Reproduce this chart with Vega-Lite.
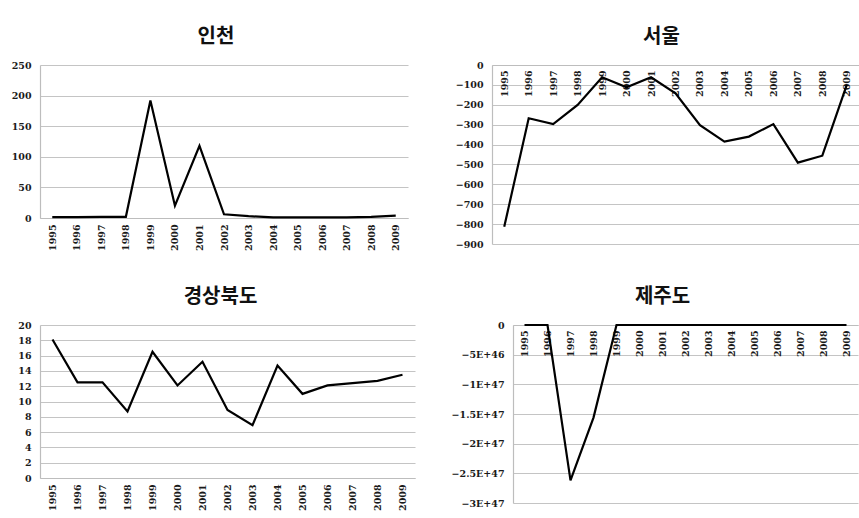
{
  "$schema": "https://vega.github.io/schema/vega-lite/v6.json",
  "autosize": {"type": "pad"},
  "padding": {"left": 11, "top": 27, "right": 0, "bottom": 0},
  "background": "white",
  "columns": 1,
  "spacing": 36,
  "config": {
    "view": {"stroke": null},
    "font": "DejaVu Serif",
    "axis": {
      "ticks": false,
      "minExtent": 0,
      "domainColor": "#bdbdbd",
      "domainWidth": 1.2,
      "gridColor": "#c4c4c4",
      "gridWidth": 1.2,
      "labelFont": "DejaVu Serif",
      "labelFontWeight": "bold",
      "labelFontSize": 9.5,
      "labelColor": "#1a1a1a",
      "title": null
    },
    "axisY": {"minExtent": 0},
    "title": {
      "font": "Noto Sans CJK KR",
      "fontSize": 20,
      "fontWeight": "bold",
      "color": "#111111",
      "anchor": "middle",
      "offset": 13
    },
    "line": {"color": "#000000", "strokeWidth": 2.2}
  },
  "data": {
    "values": [
      {"region": "인천", "year": "1995", "value": 1.5},
      {"region": "인천", "year": "1996", "value": 1.5},
      {"region": "인천", "year": "1997", "value": 2},
      {"region": "인천", "year": "1998", "value": 2},
      {"region": "인천", "year": "1999", "value": 192},
      {"region": "인천", "year": "2000", "value": 20},
      {"region": "인천", "year": "2001", "value": 118},
      {"region": "인천", "year": "2002", "value": 6},
      {"region": "인천", "year": "2003", "value": 3},
      {"region": "인천", "year": "2004", "value": 1},
      {"region": "인천", "year": "2005", "value": 1},
      {"region": "인천", "year": "2006", "value": 1},
      {"region": "인천", "year": "2007", "value": 1},
      {"region": "인천", "year": "2008", "value": 2},
      {"region": "인천", "year": "2009", "value": 4},
      {"region": "서울", "year": "1995", "value": -813},
      {"region": "서울", "year": "1996", "value": -268},
      {"region": "서울", "year": "1997", "value": -297},
      {"region": "서울", "year": "1998", "value": -201},
      {"region": "서울", "year": "1999", "value": -62},
      {"region": "서울", "year": "2000", "value": -112},
      {"region": "서울", "year": "2001", "value": -62},
      {"region": "서울", "year": "2002", "value": -142},
      {"region": "서울", "year": "2003", "value": -302},
      {"region": "서울", "year": "2004", "value": -385},
      {"region": "서울", "year": "2005", "value": -360},
      {"region": "서울", "year": "2006", "value": -297},
      {"region": "서울", "year": "2007", "value": -491},
      {"region": "서울", "year": "2008", "value": -456},
      {"region": "서울", "year": "2009", "value": -100},
      {"region": "경상북도", "year": "1995", "value": 18.1},
      {"region": "경상북도", "year": "1996", "value": 12.5},
      {"region": "경상북도", "year": "1997", "value": 12.5},
      {"region": "경상북도", "year": "1998", "value": 8.7},
      {"region": "경상북도", "year": "1999", "value": 16.5},
      {"region": "경상북도", "year": "2000", "value": 12.1},
      {"region": "경상북도", "year": "2001", "value": 15.2},
      {"region": "경상북도", "year": "2002", "value": 8.9},
      {"region": "경상북도", "year": "2003", "value": 6.9},
      {"region": "경상북도", "year": "2004", "value": 14.7},
      {"region": "경상북도", "year": "2005", "value": 11.0},
      {"region": "경상북도", "year": "2006", "value": 12.1},
      {"region": "경상북도", "year": "2007", "value": 12.4},
      {"region": "경상북도", "year": "2008", "value": 12.7},
      {"region": "경상북도", "year": "2009", "value": 13.5},
      {"region": "제주도", "year": "1995", "value": 0},
      {"region": "제주도", "year": "1996", "value": 0},
      {"region": "제주도", "year": "1997", "value": -2.62e47},
      {"region": "제주도", "year": "1998", "value": -1.56e47},
      {"region": "제주도", "year": "1999", "value": 0},
      {"region": "제주도", "year": "2000", "value": 0},
      {"region": "제주도", "year": "2001", "value": 0},
      {"region": "제주도", "year": "2002", "value": 0},
      {"region": "제주도", "year": "2003", "value": 0},
      {"region": "제주도", "year": "2004", "value": 0},
      {"region": "제주도", "year": "2005", "value": 0},
      {"region": "제주도", "year": "2006", "value": 0},
      {"region": "제주도", "year": "2007", "value": 0},
      {"region": "제주도", "year": "2008", "value": 0},
      {"region": "제주도", "year": "2009", "value": 0}
    ]
  },
  "concat": [
    {
      "spacing": 47,
      "hconcat": [
        {
          "title": {"text": "인천", "dx": -8},
          "width": 368,
          "height": 153,
          "transform": [{"filter": "datum.region === '인천'"}],
          "mark": {"type": "line"},
          "encoding": {
            "x": {"field": "year", "type": "ordinal", "scale": {"type": "point", "padding": 0.5},
                  "axis": {"labelAngle": -90, "labelPadding": 6}},
            "y": {"field": "value", "type": "quantitative", "scale": {"domain": [0, 250], "nice": false},
                  "axis": {"values": [0, 50, 100, 150, 200, 250], "labelPadding": 9}}
          }
        },
        {
          "title": {"text": "서울", "dx": -14},
          "width": 367,
          "height": 179,
          "transform": [{"filter": "datum.region === '서울'"}],
          "mark": {"type": "line"},
          "encoding": {
            "x": {"field": "year", "type": "ordinal", "scale": {"type": "point", "padding": 0.5},
                  "axis": {"orient": "bottom", "offset": -179, "labelAngle": -90, "labelPadding": 5}},
            "y": {"field": "value", "type": "quantitative", "scale": {"domain": [-900, 0], "nice": false},
                  "axis": {"values": [0, -100, -200, -300, -400, -500, -600, -700, -800, -900], "labelPadding": 9}}
          }
        }
      ]
    },
    {
      "spacing": 36,
      "hconcat": [
        {
          "title": {"text": "경상북도", "dx": -7},
          "width": 375,
          "height": 153,
          "transform": [{"filter": "datum.region === '경상북도'"}],
          "mark": {"type": "line"},
          "encoding": {
            "x": {"field": "year", "type": "ordinal", "scale": {"type": "point", "padding": 0.5},
                  "axis": {"labelAngle": -90, "labelPadding": 6}},
            "y": {"field": "value", "type": "quantitative", "scale": {"domain": [0, 20], "nice": false},
                  "axis": {"values": [0, 2, 4, 6, 8, 10, 12, 14, 16, 18, 20], "labelPadding": 9}}
          }
        },
        {
          "title": {"text": "제주도", "dx": -23},
          "width": 345,
          "height": 178,
          "transform": [{"filter": "datum.region === '제주도'"}],
          "mark": {"type": "line"},
          "encoding": {
            "x": {"field": "year", "type": "ordinal", "scale": {"type": "point", "padding": 0.5},
                  "axis": {"orient": "bottom", "offset": -178, "labelAngle": -90, "labelPadding": 5}},
            "y": {"field": "value", "type": "quantitative", "scale": {"domain": [-3e47, 0], "nice": false},
                  "axis": {"values": [0, -5e46, -1e47, -1.5e47, -2e47, -2.5e47, -3e47], "labelPadding": 9,
                           "labelExpr": "datum.value == 0 ? '0' : upper(format(datum.value, '.2~e'))"}}
          }
        }
      ]
    }
  ]
}
